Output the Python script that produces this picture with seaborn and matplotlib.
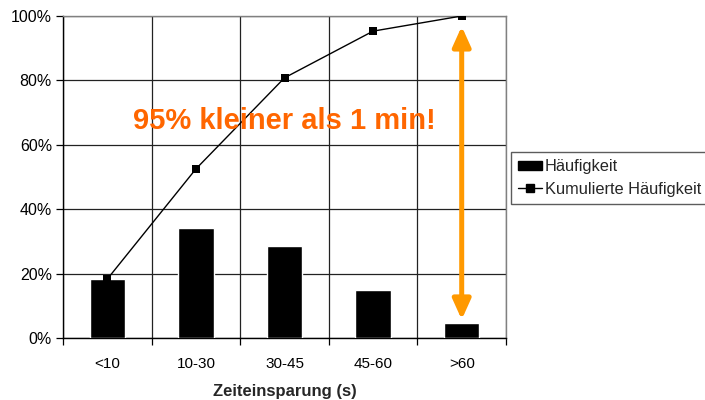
import matplotlib
matplotlib.use("Agg")
import matplotlib.pyplot as plt
import seaborn as sns
import numpy as np
from matplotlib.ticker import PercentFormatter, FixedLocator
from matplotlib.patches import Patch
from matplotlib.lines import Line2D

# --- DATA ---
categories = ["<10", "10-30", "30-45", "45-60", ">60"]
haeufigkeit = [18.3, 34.2, 28.5, 14.8, 4.7]          # % per class
kumuliert = [18.3, 52.5, 80.8, 95.3, 100.0]           # cumulative %
y_ticks = [0, 20, 40, 60, 80, 100]

ORANGE_TEXT = "#FF6600"
ORANGE_ARROW = "#FF9900"

sns.set_theme(style="white")
plt.rcParams["font.family"] = ["Liberation Sans", "DejaVu Sans"]

fig = plt.figure(figsize=(7.05, 4.0), dpi=100)
fig.patch.set_facecolor("white")
ax = fig.add_axes([63 / 705, 62 / 400, 443 / 705, 322 / 400])

x_pos = np.arange(len(categories))

sns.barplot(x=categories, y=haeufigkeit, color="black", width=0.4,
            saturation=1, ax=ax, zorder=3)
sns.lineplot(x=x_pos, y=kumuliert, color="black", lw=1, marker="s",
             markersize=6, markeredgewidth=0, ax=ax, zorder=4)

ax.set_xlim(-0.5, len(categories) - 0.5)
ax.set_ylim(0, 100)
ax.yaxis.set_major_locator(FixedLocator(y_ticks))
ax.yaxis.set_major_formatter(PercentFormatter(decimals=0))

# category boundaries as minor ticks -> vertical grid
ax.xaxis.set_minor_locator(FixedLocator(np.arange(-0.5, len(categories), 1.0)))
ax.grid(axis="x", which="minor", color="#222222", lw=0.9, zorder=0)
ax.grid(axis="y", which="major", color="#222222", lw=0.9, zorder=0)
ax.grid(axis="x", which="major", visible=False)
ax.tick_params(axis="x", which="major", length=0, pad=14, labelsize=11, colors="black")
ax.tick_params(axis="x", which="minor", bottom=True, length=5, width=0.9, color="black")
ax.tick_params(axis="y", left=True, length=5, width=0.9, color="black",
               labelsize=11.5, labelcolor="black", pad=3)

for side in ["left", "bottom"]:
    ax.spines[side].set_color("black")
    ax.spines[side].set_linewidth(1)
for side in ["top", "right"]:
    ax.spines[side].set_color("#808080")
    ax.spines[side].set_linewidth(1)

ax.set_xlabel("Zeiteinsparung (s)", fontsize=12, fontweight="bold", labelpad=9)
ax.set_ylabel("")

# double arrow over last category
ax.annotate("", xy=(x_pos[-1], kumuliert[-1] - 3.2), xytext=(x_pos[-1], haeufigkeit[-1] + 1.0),
            arrowprops=dict(arrowstyle="<|-|>,head_length=1.0,head_width=0.45",
                            color=ORANGE_ARROW, lw=3.6, shrinkA=0, shrinkB=0),
            zorder=5)

ax.text(2.0, 67.5, "95% kleiner als 1 min!", color=ORANGE_TEXT, fontsize=21,
        fontweight="bold", ha="center", va="center", zorder=6)

handles = [
    Patch(facecolor="black", edgecolor="black", label="Häufigkeit"),
    Line2D([0], [0], color="black", lw=1, marker="s", markersize=6, label="Kumulierte Häufigkeit"),
]
leg = fig.legend(handles=handles, loc="center left", bbox_to_anchor=(511 / 705, 1 - 178 / 400),
                 frameon=True, fancybox=False, fontsize=11.8, handlelength=1.45,
                 handleheight=0.5, handletextpad=0.15, borderpad=0.45, labelspacing=0.45,
                 borderaxespad=0)
leg.get_frame().set_edgecolor("#333333")
leg.get_frame().set_linewidth(1)

fig.savefig("out.png", dpi=100, facecolor="white")
